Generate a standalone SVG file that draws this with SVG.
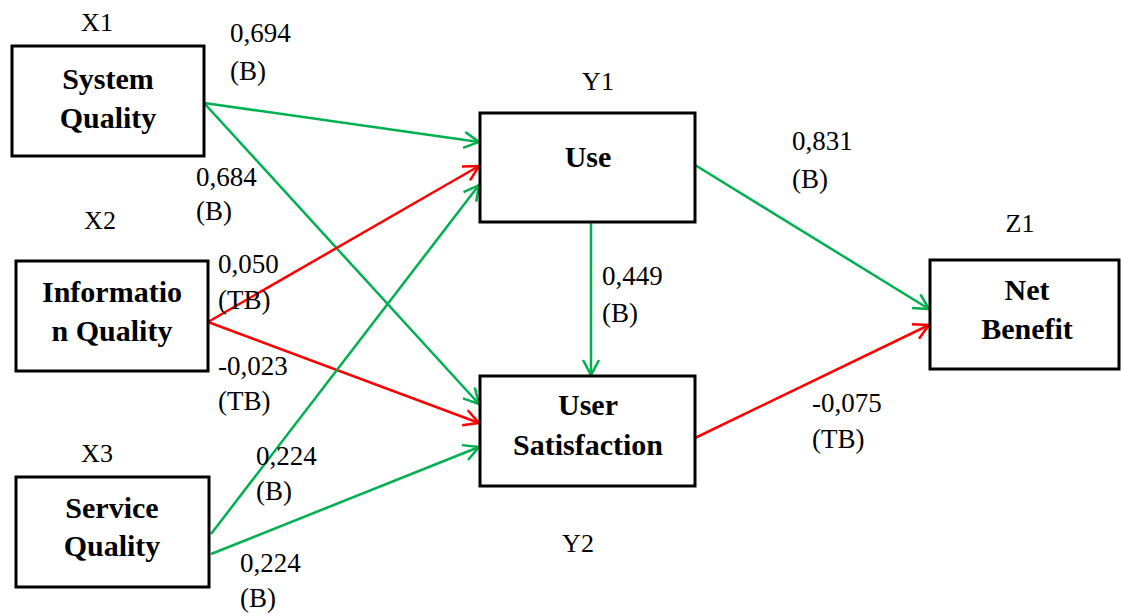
<svg xmlns="http://www.w3.org/2000/svg" width="1121" height="616" viewBox="0 0 1121 616" font-family="'Liberation Serif', 'DejaVu Serif', serif">
  <style>
    .box { fill: #fff; stroke: #000; stroke-width: 3; }
    .name { font-weight: bold; font-size: 30px; text-anchor: middle; fill: #000; }
    .tag { font-size: 26px; text-anchor: middle; fill: #000; }
    .coef { font-size: 27px; fill: #000; }
    .g { stroke: #00B050; stroke-width: 2.5; fill: none; marker-end: url(#ag); }
    .r { stroke: #FF0000; stroke-width: 2.5; fill: none; marker-end: url(#ar); }
  </style>
  <defs>
    <marker id="ag" viewBox="-17 -10 19 20" refX="0" refY="0" markerWidth="19" markerHeight="20" markerUnits="userSpaceOnUse" orient="auto">
      <path d="M-15,-8 L0,0 L-15,8" fill="none" stroke="#00B050" stroke-width="2.5"/>
    </marker>
    <marker id="ar" viewBox="-17 -10 19 20" refX="0" refY="0" markerWidth="19" markerHeight="20" markerUnits="userSpaceOnUse" orient="auto">
      <path d="M-15,-8 L0,0 L-15,8" fill="none" stroke="#FF0000" stroke-width="2.5"/>
    </marker>
  </defs>

  <rect width="1121" height="616" fill="#fff"/>

  <!-- paths between constructs -->
  <g id="connectors">
    <line class="g" x1="204" y1="103" x2="479" y2="142"/>
    <line class="g" x1="204" y1="103" x2="479" y2="404"/>
    <line class="r" x1="208" y1="322" x2="479" y2="166"/>
    <line class="r" x1="208" y1="322" x2="479" y2="423"/>
    <line class="g" x1="211" y1="534" x2="479" y2="185"/>
    <line class="g" x1="211" y1="554" x2="479" y2="447"/>
    <line class="g" x1="591" y1="222" x2="591" y2="375"/>
    <line class="g" x1="695" y1="165" x2="929" y2="309"/>
    <line class="r" x1="695" y1="438" x2="929" y2="325"/>
  </g>

  <g id="system-quality">
    <rect class="box" x="12" y="46" width="192" height="110"/>
    <text class="name" x="108" y="89">System</text>
    <text class="name" x="108" y="128">Quality</text>
    <text class="tag" x="97" y="31">X1</text>
  </g>

  <g id="information-quality">
    <rect class="box" x="16" y="261" width="192" height="110"/>
    <text class="name" x="112" y="302">Informatio</text>
    <text class="name" x="112" y="341">n Quality</text>
    <text class="tag" x="100" y="229">X2</text>
  </g>

  <g id="service-quality">
    <rect class="box" x="16" y="477" width="193" height="110"/>
    <text class="name" x="112" y="518">Service</text>
    <text class="name" x="112" y="556">Quality</text>
    <text class="tag" x="97" y="462">X3</text>
  </g>

  <g id="use">
    <rect class="box" x="480" y="113" width="215" height="109"/>
    <text class="name" x="588" y="167">Use</text>
    <text class="tag" x="598" y="90">Y1</text>
  </g>

  <g id="user-satisfaction">
    <rect class="box" x="480" y="376" width="215" height="110"/>
    <text class="name" x="588" y="415">User</text>
    <text class="name" x="588" y="455">Satisfaction</text>
    <text class="tag" x="578" y="552">Y2</text>
  </g>

  <g id="net-benefit">
    <rect class="box" x="930" y="260" width="189" height="109"/>
    <text class="name" x="1027" y="300">Net</text>
    <text class="name" x="1027" y="339">Benefit</text>
    <text class="tag" x="1020" y="232">Z1</text>
  </g>

  <!-- path coefficients -->
  <g id="coefficients">
    <text class="coef" x="230" y="42">0,694</text>
    <text class="coef" x="230" y="80">(B)</text>
    <text class="coef" x="196" y="186">0,684</text>
    <text class="coef" x="196" y="220">(B)</text>
    <text class="coef" x="792" y="150">0,831</text>
    <text class="coef" x="792" y="188">(B)</text>
    <text class="coef" x="602" y="285">0,449</text>
    <text class="coef" x="602" y="322">(B)</text>
    <text class="coef" x="218" y="273">0,050</text>
    <text class="coef" x="218" y="309">(TB)</text>
    <text class="coef" x="218" y="375">-0,023</text>
    <text class="coef" x="218" y="410">(TB)</text>
    <text class="coef" x="256" y="465">0,224</text>
    <text class="coef" x="256" y="500">(B)</text>
    <text class="coef" x="240" y="572">0,224</text>
    <text class="coef" x="240" y="607">(B)</text>
    <text class="coef" x="812" y="412">-0,075</text>
    <text class="coef" x="812" y="448">(TB)</text>
  </g>
</svg>
